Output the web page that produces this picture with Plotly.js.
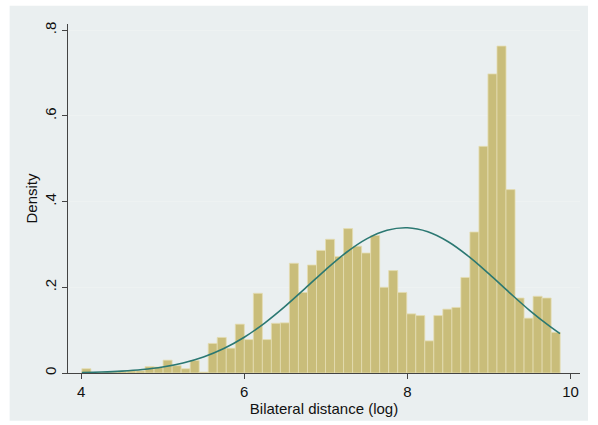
<!DOCTYPE html>
<html>
<head>
<meta charset="utf-8">
<script src="https://cdn.plot.ly/plotly-3.0.1.min.js"></script>
<style>html,body{margin:0;padding:0;background:#fff;}#chart{width:598px;height:425px;}</style>
</head>
<body>
<div id="chart"></div>
<script>
// Histogram bins (start, width) and densities
const binStart = 4.01;
const binWidth = 0.1106;
const density = [
  0.010, 0.001, 0.001, 0.002, 0.004, 0.005, 0.005, 0.015, 0.014, 0.030,
  0.017, 0.010, 0.029, 0.002, 0.069, 0.083, 0.058, 0.114, 0.078, 0.186,
  0.078, 0.116, 0.117, 0.256, 0.188, 0.252, 0.286, 0.312, 0.272, 0.337,
  0.296, 0.280, 0.321, 0.200, 0.239, 0.188, 0.138, 0.134, 0.075, 0.134,
  0.149, 0.153, 0.223, 0.329, 0.529, 0.698, 0.763, 0.428, 0.175, 0.128,
  0.179, 0.175, 0.095
];
// Normal density overlay
const curveX = [4.01, 4.25, 4.5, 4.75, 5, 5.25, 5.5, 5.75, 6, 6.25, 6.5, 6.75, 7, 7.25, 7.5, 7.75, 8, 8.25, 8.5, 8.75, 9, 9.25, 9.5, 9.75, 9.87];
const curveY = [0.0012, 0.0023, 0.0044, 0.0080, 0.0140, 0.0235, 0.0375, 0.0572, 0.0835, 0.1165, 0.1554, 0.1981, 0.2414, 0.2812, 0.3130, 0.3331, 0.3389, 0.3295, 0.3063, 0.2721, 0.2312, 0.1877, 0.1456, 0.1081, 0.0921];
const xTicks = [4, 6, 8, 10];
const yTicks = [0, 0.2, 0.4, 0.6, 0.8];
const yTickText = ['0', '.2', '.4', '.6', '.8'];
const xTitle = 'Bilateral distance (log)';
const yTitle = 'Density';

const binCenters = density.map((_, i) => binStart + binWidth * (i + 0.5));

const FONT = 'Liberation Sans, Arial, sans-serif';
const TXT = '#111';

const traces = [
  {
    type: 'bar',
    x: binCenters,
    y: density,
    width: binWidth,
    marker: { color: '#c9bd7a', line: { color: '#e4ddb2', width: 0.8 } },
    hoverinfo: 'skip',
    showlegend: false
  },
  {
    type: 'scatter',
    mode: 'lines',
    x: curveX,
    y: curveY,
    line: { color: '#2b7872', width: 1.6, shape: 'spline', smoothing: 1 },
    hoverinfo: 'skip',
    showlegend: false
  }
];

const layout = {
  width: 598,
  height: 425,
  margin: { l: 68, r: 18, t: 24, b: 52 },
  paper_bgcolor: '#ffffff',
  plot_bgcolor: '#ffffff',
  bargap: 0,
  font: { family: FONT, size: 15, color: TXT },
  shapes: [
    {
      type: 'rect', xref: 'paper', yref: 'paper', layer: 'below',
      x0: -0.114, x1: 1.0156, y0: -0.137, y1: 1.0524,
      fillcolor: '#eaeff0', line: { width: 0 }
    }
  ],
  xaxis: {
    range: [3.84, 10.115],
    tickvals: xTicks,
    ticktext: xTicks.map(String),
    ticks: 'outside', ticklen: 5, tickwidth: 1, tickcolor: '#444',
    showline: true, linecolor: '#444', linewidth: 1,
    showgrid: false, zeroline: false,
    tickfont: { family: FONT, size: 15, color: TXT },
    title: { text: xTitle, font: { family: FONT, size: 15, color: TXT }, standoff: 4 }
  },
  yaxis: {
    range: [0, 0.8145],
    tickvals: yTicks,
    ticktext: yTickText,
    tickangle: -90,
    ticks: 'outside', ticklen: 5, tickwidth: 1, tickcolor: '#444',
    showline: true, linecolor: '#444', linewidth: 1,
    showgrid: true, gridcolor: '#eef2f2', gridwidth: 1,
    zeroline: false,
    tickfont: { family: FONT, size: 15, color: TXT },
    title: { text: yTitle, font: { family: FONT, size: 15, color: TXT }, standoff: 0 }
  }
};

Plotly.newPlot('chart', traces, layout, { staticPlot: true, displayModeBar: false });
</script>
</body>
</html>
